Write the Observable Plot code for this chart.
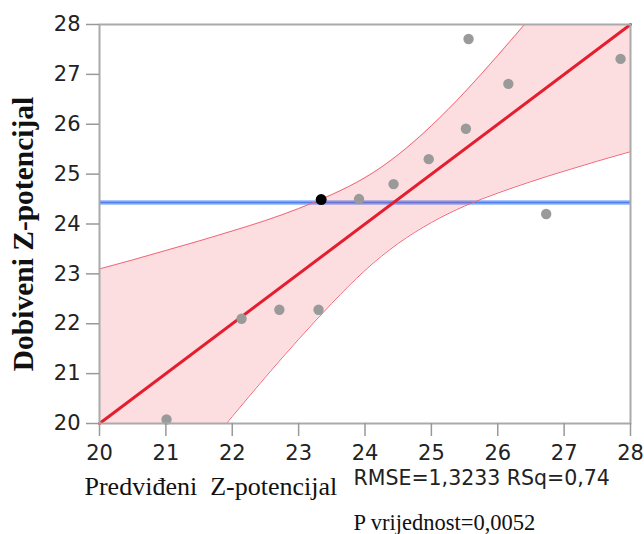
<!DOCTYPE html>
<html>
<head>
<meta charset="utf-8">
<script src="https://cdn.jsdelivr.net/npm/d3@7"></script>
<script src="https://cdn.jsdelivr.net/npm/@observablehq/plot@0.6"></script>
<style>
  html, body { margin: 0; padding: 0; background: #fff; }
  #chart svg { display: block; }
</style>
</head>
<body>
<div id="chart"></div>
<script>
// Points (predicted vs. obtained)
const predicted = [21.01, 22.14, 22.71, 23.30, 23.91, 24.43, 24.96, 25.52, 25.56, 26.16, 26.73, 27.85];
const obtained  = [20.08, 22.10, 22.28, 22.28, 24.50, 24.80, 25.30, 25.91, 27.71, 26.81, 24.20, 27.31];
// Highlighted (black) point
const highlightX = [23.34];
const highlightY = [24.49];
// Fit line
const fitX = [20, 28];
const fitY = [20, 28];
// Mean (blue) line
const meanY = [24.43];
// Confidence band
const bandX     = [20, 20.5, 21, 21.5, 22, 22.5, 23, 23.5, 24, 24.5, 25, 25.5, 26, 26.5, 27, 27.5, 28];
const bandUpper = [23.10, 23.28, 23.47, 23.66, 23.86, 24.07, 24.31, 24.59, 24.93, 25.39, 25.97, 26.64, 27.38, 28.15, 28.94, 29.74, 30.55];
const bandLower = [16.90, 17.72, 18.53, 19.34, 20.14, 20.93, 21.69, 22.41, 23.07, 23.61, 24.03, 24.36, 24.62, 24.85, 25.06, 25.26, 25.45];
// Ticks and texts
const ticks = [20, 21, 22, 23, 24, 25, 26, 27, 28];
const xLabel = "Predviđeni  Z-potencijal";
const yLabel = "Dobiveni Z-potencijal";
const statsLine1 = "RMSE=1,3233 RSq=0,74";
const statsLine2 = "P vrijednost=0,0052";

const points = predicted.map((x, i) => ({x, y: obtained[i]}));
const highlight = highlightX.map((x, i) => ({x, y: highlightY[i]}));
const fit = fitX.map((x, i) => ({x, y: fitY[i]}));
const band = bandX.map((x, i) => ({x, lo: bandLower[i], hi: bandUpper[i]}));

const sans = "DejaVu Sans";
const serif = "Liberation Serif";
const fmt = d => String(d);

const chart = Plot.plot({
  width: 644,
  height: 534,
  marginLeft: 99,
  marginRight: 14,
  marginTop: 24,
  marginBottom: 111,
  style: {fontFamily: sans, fontSize: "21px", color: "#222", background: "#fff", overflow: "visible"},
  x: {domain: [20, 28], ticks: ticks, label: null},
  y: {domain: [20, 28], ticks: ticks, label: null},
  marks: [
    Plot.ruleY(meanY, {stroke: "#8fb3fa", strokeWidth: 4.5}),
    Plot.ruleY(meanY, {stroke: "#4d7ff0", strokeWidth: 1.6}),
    Plot.areaY(band, {x: "x", y1: "lo", y2: "hi", fill: "#f03040", fillOpacity: 0.16, curve: "natural", clip: true}),
    Plot.line(band, {x: "x", y: "hi", stroke: "#f06878", strokeWidth: 1, curve: "natural", clip: true}),
    Plot.line(band, {x: "x", y: "lo", stroke: "#f06878", strokeWidth: 1, curve: "natural", clip: true}),
    Plot.line(fit, {x: "x", y: "y", stroke: "#e41e2e", strokeWidth: 3}),
    Plot.dot(points, {x: "x", y: "y", r: 5.2, fill: "#9a9a9a", stroke: "none"}),
    Plot.dot(highlight, {x: "x", y: "y", r: 5.5, fill: "#000", stroke: "none"}),
    Plot.frame({stroke: "#aaa", strokeWidth: 2}),
    Plot.axisX(ticks, {tickSize: 13, tickPadding: 9, tickFormat: fmt, stroke: "#999", strokeWidth: 1.5, fill: "#222", fontSize: 21, fontFamily: sans, label: null}),
    Plot.axisY(ticks, {tickSize: 13, tickPadding: 6, tickFormat: fmt, stroke: "#999", strokeWidth: 1.5, fill: "#222", fontSize: 21, fontFamily: sans, label: null}),
    Plot.text([xLabel], {frameAnchor: "bottom-left", text: d => d, dx: -15, dy: 63, textAnchor: "start", lineAnchor: "middle", fontFamily: serif, fontSize: 26, fill: "#111"}),
    Plot.text([statsLine1], {frameAnchor: "bottom-left", text: d => d, dx: 254, dy: 55, textAnchor: "start", lineAnchor: "middle", fontFamily: sans, fontSize: 20.5, fill: "#222"}),
    Plot.text([statsLine2], {frameAnchor: "bottom-left", text: d => d, dx: 254, dy: 99, textAnchor: "start", lineAnchor: "middle", fontFamily: serif, fontSize: 22.5, fill: "#111"}),
    Plot.text([yLabel], {frameAnchor: "left", text: d => d, dx: -76, dy: 10, rotate: -90, textAnchor: "middle", lineAnchor: "middle", fontFamily: serif, fontWeight: "bold", fontSize: 29.5, fill: "#111"})
  ]
});
document.getElementById("chart").appendChild(chart);
</script>
</body>
</html>
